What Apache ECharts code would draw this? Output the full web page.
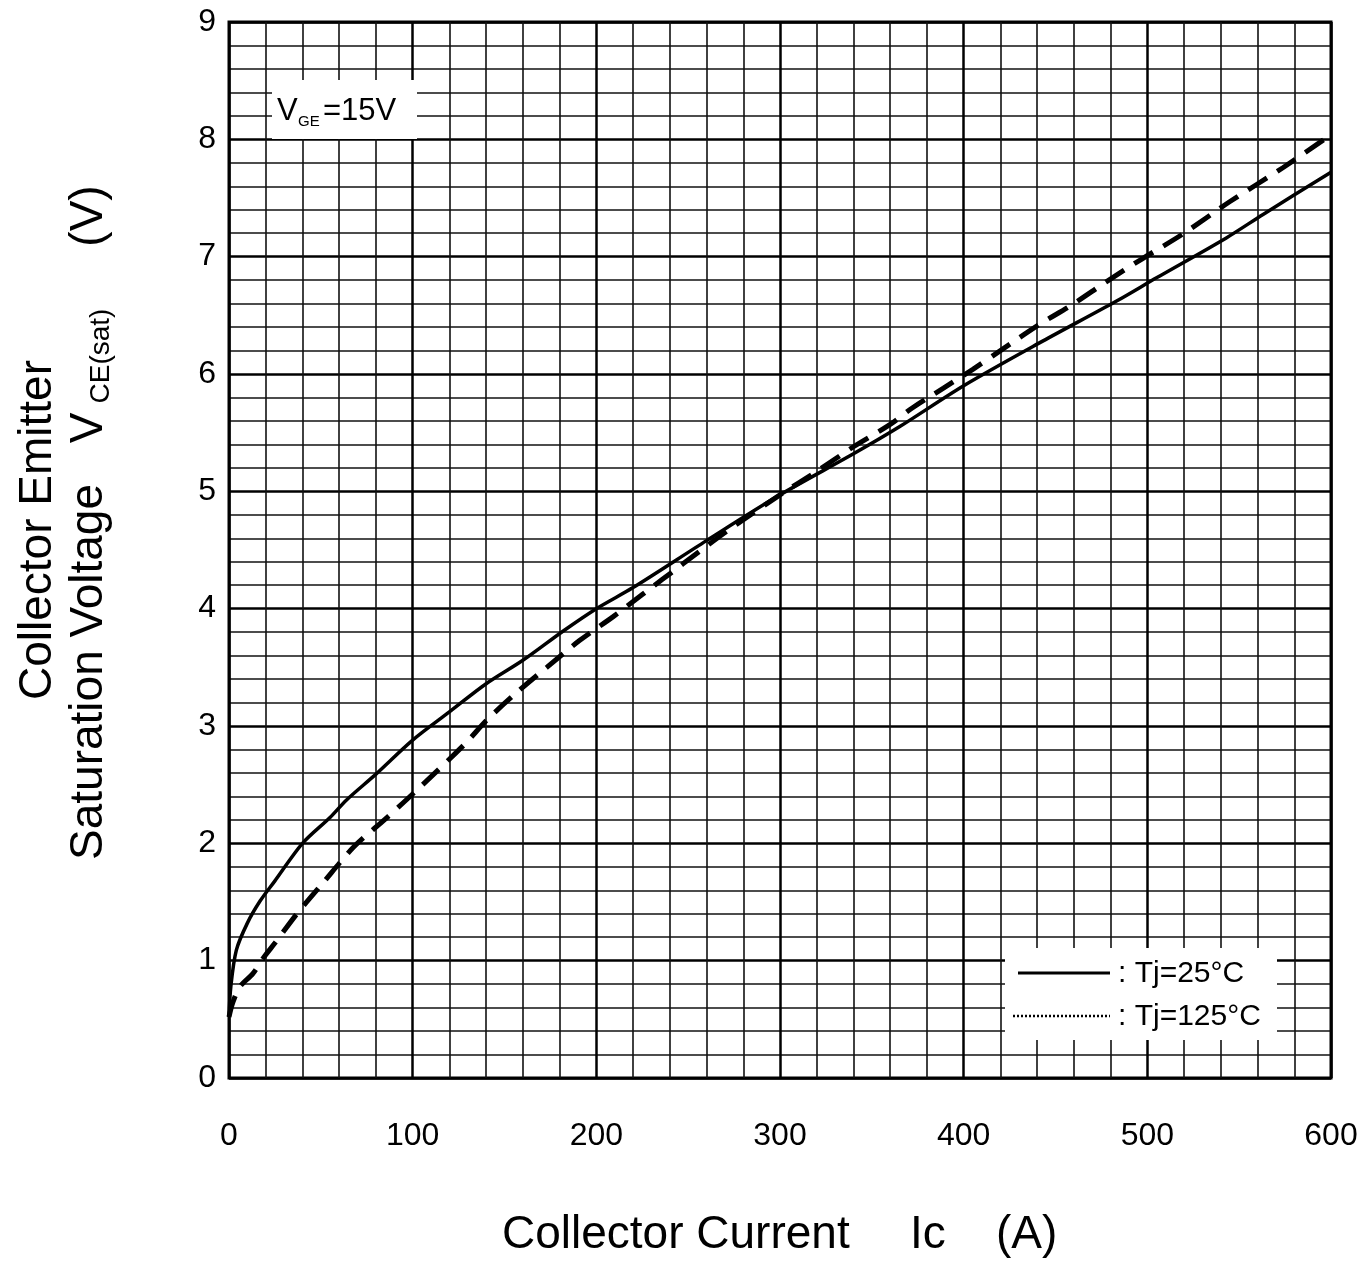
<!DOCTYPE html>
<html><head><meta charset="utf-8">
<script src="https://cdn.jsdelivr.net/npm/echarts@6/dist/echarts.min.js"></script>
<style>html,body{margin:0;padding:0;background:#fff}#c{width:1372px;height:1262px}</style>
</head><body><div id="c"></div>
<script>
// Tj = 25°C (solid)
const ic25 = [0, 1, 4, 10, 17, 25, 40, 55, 64, 80, 100, 120, 140, 160, 182, 200, 220, 260, 300, 340, 365, 400, 443, 483, 505, 543, 563, 600];
const v25  = [0.52, 0.78, 1.09, 1.32, 1.51, 1.68, 2.0, 2.22, 2.37, 2.59, 2.88, 3.12, 3.36, 3.56, 3.81, 4.0, 4.18, 4.58, 4.97, 5.32, 5.55, 5.9, 6.28, 6.62, 6.82, 7.16, 7.36, 7.72];
// Tj = 125°C (dashed)
const ic125 = [0, 2, 6, 13, 19, 25, 37, 51, 68, 86, 100, 128, 141, 157, 173, 191, 209, 225, 247, 271, 300, 320, 340, 360, 372, 389, 405, 421, 441, 459, 478, 497, 519, 545, 574, 600];
const v125  = [0.52, 0.64, 0.78, 0.89, 1.03, 1.15, 1.4, 1.66, 1.97, 2.22, 2.42, 2.84, 3.06, 3.29, 3.5, 3.73, 3.93, 4.12, 4.38, 4.66, 4.97, 5.17, 5.38, 5.57, 5.71, 5.88, 6.04, 6.21, 6.42, 6.59, 6.79, 6.98, 7.19, 7.47, 7.76, 8.04];

const xMin = 0, xMax = 600, xStep = 100, xMinorSplit = 5;
const yMin = 0, yMax = 9, yStep = 1, yMinorSplit = 5;

const xTitle = ['Collector Current', 'Ic', '(A)'];
const yTitle1 = 'Collector Emitter';
const yTitle2 = ['Saturation Voltage', 'V', 'CE(sat)', '(V)'];
const legendNames = [': Tj=25°C', ': Tj=125°C'];
const condition = ['V', 'GE', '=15V'];

const FF = '"Liberation Sans", Arial, Helvetica, sans-serif';
const chart = echarts.init(document.getElementById('c'), null, {renderer: 'canvas'});

function txt(x, y, text, size, opts) {
  opts = opts || {};
  return {
    type: 'text', x: x, y: y, z: 100, rotation: opts.rot || 0,
    style: {
      text: text, fill: '#000', fontSize: size, fontFamily: FF,
      textAlign: opts.align || 'left', align: opts.align || 'left',
      textVerticalAlign: 'middle', verticalAlign: 'middle'
    }
  };
}

const R = Math.PI / 2;
const option = {
  animation: false,
  backgroundColor: '#fff',
  grid: {left: 229, right: 41, top: 22, bottom: 184, show: true, borderColor: '#000', borderWidth: 3, outerBoundsMode: 'none'},
  xAxis: {
    type: 'value', min: xMin, max: xMax, interval: xStep,
    axisLine: {show: false}, axisTick: {show: false},
    axisLabel: {fontSize: 32, color: '#000', fontFamily: FF, margin: 42},
    splitLine: {show: true, lineStyle: {color: '#000', width: 2.5}},
    minorTick: {show: false, splitNumber: xMinorSplit},
    minorSplitLine: {show: true, lineStyle: {color: '#111', width: 1.6}}
  },
  yAxis: {
    type: 'value', min: yMin, max: yMax, interval: yStep,
    axisLine: {show: false}, axisTick: {show: false},
    axisLabel: {fontSize: 32, color: '#000', fontFamily: FF, margin: 13},
    splitLine: {show: true, lineStyle: {color: '#000', width: 2.5}},
    minorTick: {show: false, splitNumber: yMinorSplit},
    minorSplitLine: {show: true, lineStyle: {color: '#111', width: 1.6}}
  },
  series: [
    {
      name: legendNames[0], type: 'line', showSymbol: false, symbol: 'none',
      smooth: 0.3, z: 5,
      lineStyle: {color: '#000', width: 3.5},
      data: ic25.map((x, i) => [x, v25[i]])
    },
    {
      name: legendNames[1], type: 'line', showSymbol: false, symbol: 'none',
      smooth: 0.3, z: 6,
      lineStyle: {color: '#000', width: 5, type: [22, 12]},
      data: ic125.map((x, i) => [x, v125[i]])
    }
  ],
  graphic: [
    // condition box
    {type: 'rect', z: 99, shape: {x: 272, y: 80, width: 145, height: 59}, style: {fill: '#fff'}},
    txt(277, 111, condition[0], 31),
    txt(298, 122, condition[1], 15),
    txt(323, 111, condition[2], 31),
    // legend box
    {type: 'rect', z: 99, shape: {x: 1005, y: 948, width: 272, height: 92}, style: {fill: '#fff'}},
    {type: 'line', z: 100, shape: {x1: 1018, y1: 973, x2: 1110, y2: 973}, style: {stroke: '#000', lineWidth: 3}},
    {type: 'line', z: 100, shape: {x1: 1013, y1: 1016, x2: 1110, y2: 1016}, style: {stroke: '#000', lineWidth: 2.5, lineDash: [2, 2]}},
    txt(1118, 974, legendNames[0], 30),
    txt(1118, 1017, legendNames[1], 30),
    // x title
    txt(502, 1235, xTitle[0], 46),
    txt(910, 1235, xTitle[1], 46),
    txt(996, 1235, xTitle[2], 46),
    // y title
    txt(38, 530, yTitle1, 46, {rot: R, align: 'center'}),
    txt(89, 672, yTitle2[0], 46, {rot: R, align: 'center'}),
    txt(89, 428, yTitle2[1], 46, {rot: R, align: 'center'}),
    txt(101, 356, yTitle2[2], 28, {rot: R, align: 'center'}),
    txt(89, 216, yTitle2[3], 46, {rot: R, align: 'center'})
  ]
};
chart.setOption(option);
</script>
</body></html>
